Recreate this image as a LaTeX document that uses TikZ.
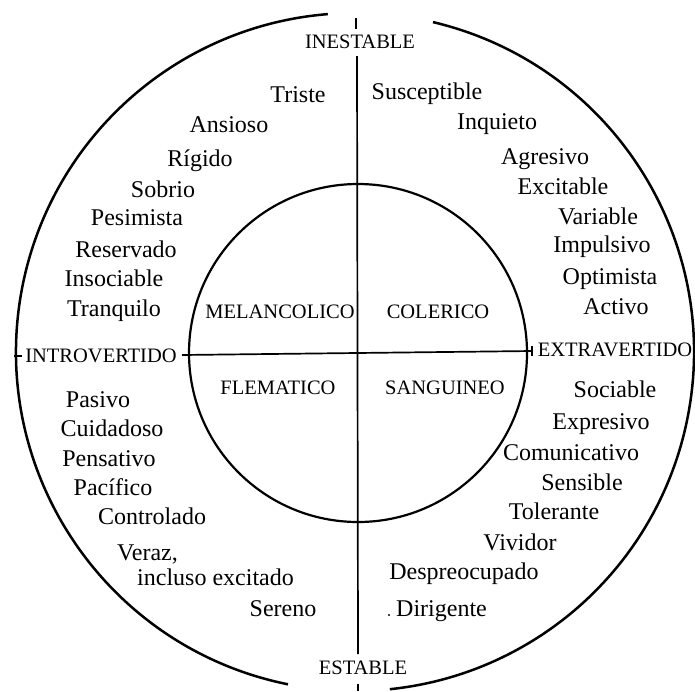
\documentclass[tikz,border=0pt]{standalone}
\usepackage{fontspec}
\setmainfont{Liberation Serif}
\begin{document}
\begin{tikzpicture}[x=1pt,y=-1pt,
  word/.style={font=\fontsize{24}{28}\selectfont, inner sep=0pt, text height=15.5pt, text depth=0pt},
  capslabel/.style={font=\fontsize{20.5}{24}\selectfont, inner sep=0pt, text height=13.5pt, text depth=0pt},
  outerline/.style={line width=2.5pt},
  innerline/.style={line width=2.2pt},
  axisline/.style={line width=1.7pt},
  tickline/.style={line width=1.4pt}]
\useasboundingbox (0,0) rectangle (695,691);
% outer circle with gaps at top and bottom
\draw[outerline] (355,352) ++(283.3:339) arc[start angle=283.3, end angle=444.1, radius=339];
\draw[outerline] (355,352) ++(101.4:339) arc[start angle=101.4, end angle=265.4, radius=339];
% inner circle
\draw[innerline] (358,353) circle[radius=169];
% axes
\coordinate (vtop) at (357,56);
\coordinate (vbot) at (358,654);
\coordinate (hl) at (182,355);
\coordinate (hr) at (532,351);
\draw[axisline] (vtop) -- (vbot);
\draw[axisline] (hl) -- (hr);
% ticks
\coordinate (tt1) at (356,18); \coordinate (tt2) at (356,29);
\coordinate (tb1) at (358,684); \coordinate (tb2) at (358,691);
\coordinate (tl1) at (14,356); \coordinate (tl2) at (22,356);
\coordinate (tr1) at (532,346); \coordinate (tr2) at (532,356);
\draw[tickline] (tt1) -- (tt2);
\draw[tickline] (tb1) -- (tb2);
\draw[tickline] (tl1) -- (tl2);
\draw[tickline] (tr1) -- (tr2);
% axis labels
\node[capslabel] (inest) at (360,42) {INESTABLE};
\node[capslabel] (est) at (363,668) {ESTABLE};
\node[capslabel] (intro) at (101,356) {INTROVERTIDO};
\node[capslabel] (extra) at (615,350) {EXTRAVERTIDO};
% quadrant labels
\node[capslabel] (mel) at (280,312) {MELANCOLICO};
\node[capslabel] (col) at (438,312) {COLERICO};
\node[capslabel] (fle) at (278,388) {FLEMATICO};
\node[capslabel] (san) at (445,388) {SANGUINEO};
% upper left
\node[word] (w1) at (298,95) {Triste};
\node[word] (w2) at (229,125) {Ansioso};
\node[word] (w3) at (200,159) {Rígido};
\node[word] (w4) at (163,190) {Sobrio};
\node[word] (w5) at (137,218) {Pesimista};
\node[word] (w6) at (126,250) {Reservado};
\node[word] (w7) at (114,279) {Insociable};
\node[word] (w8) at (114,309) {Tranquilo};
% upper right
\node[word] (e1) at (427,92) {Susceptible};
\node[word] (e2) at (497,122) {Inquieto};
\node[word] (e3) at (545,157) {Agresivo};
\node[word] (e4) at (563,187) {Excitable};
\node[word] (e5) at (598,217) {Variable};
\node[word] (e6) at (602,245) {Impulsivo};
\node[word] (e7) at (610,277) {Optimista};
\node[word] (e8) at (616,307) {Activo};
% lower left
\node[word] (f1) at (98,400) {Pasivo};
\node[word] (f2) at (112,429) {Cuidadoso};
\node[word] (f3) at (109,459) {Pensativo};
\node[word] (f4) at (113,488) {Pacífico};
\node[word] (f5) at (152,517) {Controlado};
\node[word,anchor=west] (f6) at (117,553) {Veraz,};
\node[word,anchor=west] (f7) at (137,578) {incluso excitado};
\node[word] (f8) at (283,609) {Sereno};
% lower right
\node[word] (s1) at (615,390) {Sociable};
\node[word] (s2) at (601,422) {Expresivo};
\node[word] (s3) at (571,453) {Comunicativo};
\node[word] (s4) at (582,483) {Sensible};
\node[word] (s5) at (554,512) {Tolerante};
\node[word] (s6) at (520,543) {Vividor};
\node[word] (s7) at (464,572) {Despreocupado};
\node[word,anchor=west] (s8) at (396,609) {Dirigente};
\fill (389,615) circle[radius=1.2];
\end{tikzpicture}
\end{document}
